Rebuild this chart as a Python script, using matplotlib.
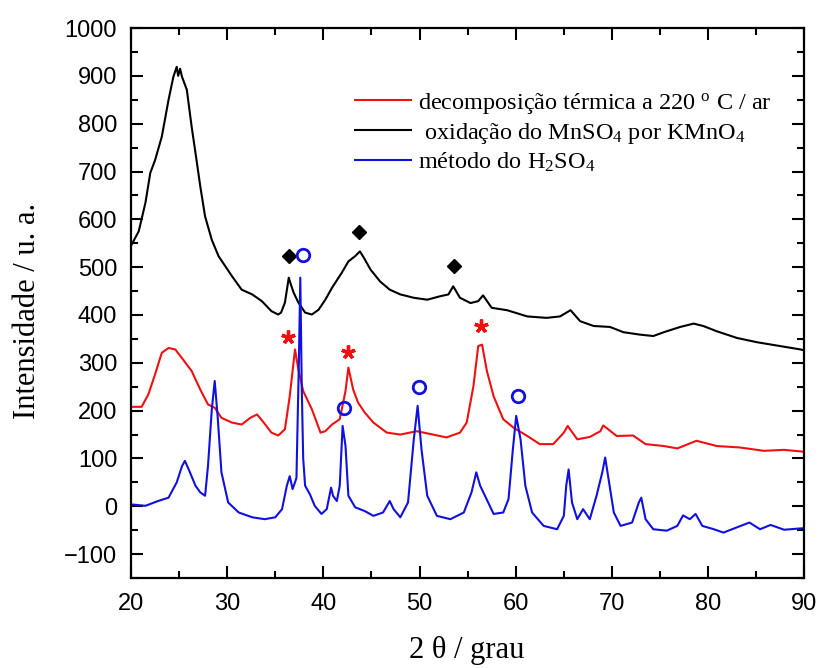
import matplotlib
matplotlib.use("Agg")
import matplotlib.pyplot as plt
from matplotlib.ticker import MultipleLocator

plt.rcParams['font.family'] = ['Liberation Sans', 'DejaVu Sans']
plt.rcParams['mathtext.fontset'] = 'custom'
plt.rcParams['mathtext.rm'] = 'Liberation Serif'
plt.rcParams['mathtext.it'] = 'Liberation Serif:italic'
plt.rcParams['mathtext.bf'] = 'Liberation Serif:bold'

# oxidacao do MnSO4 por KMnO4 (preto)
x_ox = [20.0, 20.8, 21.5, 22.0, 22.5, 23.2, 23.9, 24.4, 24.6, 24.75, 24.9, 25.1, 25.3,
        25.8, 26.3, 26.7, 27.2, 27.7, 28.4, 29.1, 29.8, 30.5, 31.5, 32.6, 33.6, 34.6,
        35.3, 35.6, 36.0, 36.4, 36.6, 36.9, 37.4, 38.1, 38.8, 39.5, 40.2, 40.9, 41.9,
        42.6, 43.3, 43.8, 44.2, 44.9, 45.9, 46.9, 48.0, 49.4, 50.8, 52.1, 53.0, 53.5,
        54.2, 55.3, 56.1, 56.6, 57.5, 59.1, 61.2, 63.2, 64.6, 65.7, 66.7, 68.1, 69.8,
        71.2, 72.9, 74.3, 75.4, 77.1, 78.5, 79.5, 80.9, 83.0, 85.1, 87.2, 89.6, 90.0]
y_ox = [545, 575, 635, 697, 724, 773, 850, 898, 910, 919, 900, 915, 898,
        871, 794, 739, 669, 606, 557, 523, 502, 481, 453, 443, 429, 408,
        401, 405, 426, 478, 465, 447, 426, 405, 401, 411, 432, 457, 488,
        512, 523, 533, 520, 495, 470, 453, 443, 436, 432, 439, 443, 460,
        436, 425, 429, 441, 415, 410, 397, 394, 397, 410, 387, 377, 375,
        364, 359, 356, 364, 375, 382, 377, 366, 352, 343, 336, 328, 326]

# decomposicao termica a 220 C / ar (vermelho)
x_dec = [20.0, 21.1, 21.8, 22.5, 23.2, 23.9, 24.6, 25.4, 26.3, 27.2, 28.0, 28.7, 29.4,
         30.5, 31.5, 32.4, 33.1, 33.8, 34.6, 35.3, 36.0, 36.5, 37.05, 37.4, 37.9, 38.8,
         39.7, 40.2, 40.9, 41.7, 42.3, 42.6, 43.1, 43.6, 44.3, 45.2, 46.6, 48.0, 49.7,
         51.4, 52.8, 54.2, 54.9, 55.6, 56.1, 56.5, 57.0, 57.7, 58.7, 59.8, 61.2, 62.5,
         63.9, 65.0, 65.4, 66.4, 67.7, 68.8, 69.1, 70.5, 72.2, 73.5, 75.4, 76.8, 78.8,
         80.9, 83.3, 85.8, 87.9, 90.0]
y_dec = [208, 208, 234, 276, 321, 331, 328, 307, 283, 244, 213, 206, 185,
         175, 171, 185, 192, 175, 154, 148, 161, 230, 328, 286, 241, 203,
         154, 157, 171, 182, 241, 290, 244, 217, 196, 175, 154, 150, 157,
         150, 144, 154, 175, 251, 335, 338, 283, 230, 182, 164, 147, 130,
         130, 154, 168, 140, 145, 157, 169, 147, 148, 130, 126, 121, 137,
         126, 123, 116, 118, 114]

# metodo do H2SO4 (azul)
x_h2 = [20.0, 21.5, 22.8, 23.9, 24.75, 25.3, 25.6, 26.0, 26.7, 27.2, 27.7, 28.0, 28.4,
        28.7, 29.0, 29.4, 30.1, 31.2, 32.6, 33.9, 35.0, 35.7, 36.2, 36.5, 36.8, 37.1,
        37.2, 37.45, 37.6, 37.75, 37.9, 38.1, 38.6, 39.1, 39.8, 40.35, 40.8, 41.0, 41.4,
        41.7, 42.0, 42.3, 42.6, 43.3, 44.3, 45.2, 46.2, 46.9, 47.3, 48.0, 48.8, 49.4,
        49.8, 50.2, 50.8, 51.8, 53.2, 54.6, 55.4, 55.9, 56.3, 56.8, 57.7, 58.7, 59.25,
        59.7, 60.05, 60.5, 61.0, 61.7, 62.9, 64.3, 65.0, 65.25, 65.5, 65.85, 66.4, 67.0,
        67.7, 68.4, 69.0, 69.3, 69.65, 70.2, 70.9, 72.1, 72.8, 73.05, 73.5, 74.3, 75.7,
        76.8, 77.4, 78.1, 78.7, 79.4, 80.6, 81.6, 83.0, 84.3, 85.4, 86.5, 87.9, 89.8, 90.0]
y_h2 = [4, 1, 11, 18, 50, 84, 95, 77, 43, 29, 22, 84, 203,
        262, 189, 71, 8, -13, -23, -27, -23, -6, 43, 63, 36, 53,
        60, 300, 478, 250, 100, 43, 25, 1, -16, -6, 39, 22, 11,
        43, 168, 126, 22, -2, -10, -20, -13, 11, -6, -23, 8, 140,
        210, 119, 22, -20, -27, -13, 29, 71, 43, 22, -16, -13, 15,
        119, 189, 140, 43, -13, -41, -48, -20, 43, 77, 8, -27, -6,
        -27, 22, 71, 102, 57, -13, -41, -34, 8, 18, -27, -48, -51,
        -41, -19, -27, -16, -41, -48, -55, -44, -34, -48, -39, -49, -46, -45]

# marcas de fase
diamond_x = [36.4, 43.7, 53.6]
diamond_y = [524, 574, 503]
circle_x = [37.9, 42.1, 49.9, 60.2]
circle_y = [526, 205, 249, 230]
star_x = [36.3, 42.6, 56.4]
star_y = [353, 322, 378]

fig = plt.figure(figsize=(8.19, 6.68), dpi=100)
ax = fig.add_axes([0.160, 0.1347, 0.822, 0.8233])

ax.plot(x_dec, y_dec, color='#f01010', lw=1.5,
        label=r'decomposição térmica a 220 $^\mathrm{o}$ C / ar')
ax.plot(x_ox, y_ox, color='black', lw=1.5,
        label=r' oxidação do MnSO$_4$ por KMnO$_4$')
ax.plot(x_h2, y_h2, color='#1010e0', lw=1.5,
        label=r'método do H$_2$SO$_4$')

ax.plot(diamond_x, diamond_y, ls='none', marker='D', ms=7.5, color='black')
ax.plot(circle_x, circle_y, ls='none', marker='o', ms=9, mfc='none',
        mec='#1010e0', mew=2)
ax.plot(star_x, star_y, ls='none', marker=(5, 2, 0), ms=10, mec='#f01010', mew=2.4)

ax.set_xlim(20, 90)
ax.set_ylim(-150, 1000)
ax.xaxis.set_major_locator(MultipleLocator(10))
ax.xaxis.set_minor_locator(MultipleLocator(5))
ax.yaxis.set_major_locator(MultipleLocator(100))
ax.yaxis.set_minor_locator(MultipleLocator(50))
ax.tick_params(which='both', direction='in', top=True, right=True, width=1.5,
               labelsize=17)
ax.tick_params(which='major', length=8.5)
ax.tick_params(which='minor', length=5)
ax.tick_params(axis='y', pad=10)
ax.tick_params(axis='x', pad=11)
for s in ax.spines.values():
    s.set_linewidth(1.6)

ax.set_xlabel('2 θ / grau', family='Liberation Serif', fontsize=22)
ax.set_ylabel('Intensidade / u. a.', family='Liberation Serif', fontsize=22)
ax.xaxis.set_label_coords(0.498, -0.105)
ax.yaxis.set_label_coords(-0.133, 0.485)

leg = ax.legend(loc='upper left', bbox_to_anchor=(0.333, 0.886), frameon=False,
                prop={'family': 'Liberation Serif', 'size': 17.5},
                handlelength=2.3, handletextpad=0.3, borderpad=0,
                borderaxespad=0, labelspacing=0.2)

fig.savefig('out.png', dpi=100)
